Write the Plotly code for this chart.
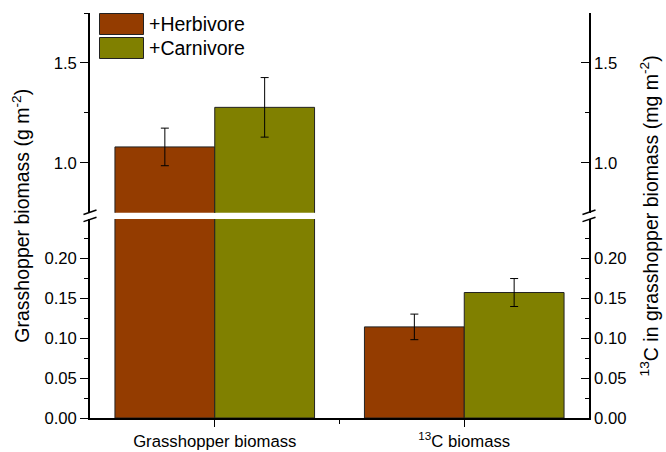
import plotly.graph_objects as go

# ---------------- data ----------------
categories = ["Grasshopper biomass", "<sup>13</sup>C biomass"]
cat_pos = [1, 2]
series_names = ["+Herbivore", "+Carnivore"]
herbivore = [1.08, 0.114]
herbivore_err = [0.094, 0.016]
carnivore = [1.278, 0.157]
carnivore_err = [0.149, 0.0175]
lower_ticks = [0.0, 0.05, 0.10, 0.15, 0.20]
upper_ticks = [1.0, 1.5]

colors = ["#943C00", "#808000"]
FONT = "Liberation Sans, Arial, sans-serif"

W, H = 666, 452
ML, MR, MT, MB = 90, 77, 13, 34
PW, PH = W - ML - MR, H - MT - MB
lower_top_px = 219.0
upper_bot_px = 212.7
lower_dom = [0, (H - MB - lower_top_px) / PH]
upper_dom = [(H - MB - upper_bot_px) / PH, 1]

fig = go.Figure()
for name, vals, errs, col in [(series_names[0], herbivore, herbivore_err, colors[0]),
                              (series_names[1], carnivore, carnivore_err, colors[1])]:
    for ya in ["y", "y2"]:
        fig.add_trace(go.Bar(
            x=cat_pos, y=vals, name=name, xaxis="x" if ya == "y" else "x2", yaxis=ya,
            marker=dict(color=col, line=dict(color="#222222", width=1)),
            error_y=dict(type="data", array=errs, color="black", thickness=1, width=4),
            showlegend=False, offsetgroup=name,
        ))

# empty traces so that the right-hand (mirror) axes get drawn
fig.add_trace(go.Scatter(x=[], y=[], xaxis="x", yaxis="y3", showlegend=False, hoverinfo="skip"))
fig.add_trace(go.Scatter(x=[], y=[], xaxis="x2", yaxis="y4", showlegend=False, hoverinfo="skip"))

TICK = 16.7
axis_common = dict(showline=True, linecolor="black", linewidth=1.5, showgrid=False,
                   zeroline=False, tickfont=dict(family=FONT, size=TICK, color="black"),
                   tickcolor="black", tickwidth=1.2)

fig.update_layout(
    width=W, height=H, margin=dict(l=ML, r=MR, t=MT, b=MB, autoexpand=False),
    plot_bgcolor="white", paper_bgcolor="white",
    barmode="group", bargap=0.2, bargroupgap=0,
    font=dict(family=FONT, color="black"),
    showlegend=False,
    xaxis=dict(anchor="y", domain=[0, 1], range=[0.5, 2.5],
               tickmode="array", tickvals=cat_pos, ticktext=categories,
               ticks="outside", ticklen=7,
               minor=dict(tickmode="array", tickvals=[1.5], ticklen=4, ticks="outside", tickcolor="black"),
               **axis_common),
    xaxis2=dict(anchor="y2", matches="x", visible=False, range=[0.5, 2.5]),
    yaxis=dict(anchor="x", domain=lower_dom, range=[0, 0.249],
               tickmode="array", tickvals=lower_ticks, tickformat=".2f",
               ticks="outside", ticklen=8,
               minor=dict(dtick=0.025, tick0=0, ticklen=4, ticks="outside", tickcolor="black"),
               **axis_common),
    yaxis2=dict(anchor="x2", domain=upper_dom, range=[0.751, 1.75],
                tickmode="array", tickvals=upper_ticks, tickformat=".1f",
                ticks="outside", ticklen=8,
                minor=dict(dtick=0.25, tick0=0, ticklen=4, ticks="outside", tickcolor="black"),
                **axis_common),
    yaxis3=dict(anchor="x", overlaying="y", side="right", range=[0, 0.249],
                tickmode="array", tickvals=lower_ticks, tickformat=".2f",
                ticks="inside", ticklen=8,
                minor=dict(dtick=0.025, tick0=0, ticklen=4, ticks="inside", tickcolor="black"),
                **axis_common),
    yaxis4=dict(anchor="x2", overlaying="y2", side="right", range=[0.751, 1.75],
                tickmode="array", tickvals=upper_ticks, tickformat=".1f",
                ticks="inside", ticklen=8,
                minor=dict(dtick=0.25, tick0=0, ticklen=4, ticks="inside", tickcolor="black"),
                **axis_common),
)

# axis titles as annotations (span both panels)
fig.add_annotation(x=-0.14, y=0.5, xref="paper", yref="paper", xanchor="center", yanchor="middle",
                   text="Grasshopper biomass (g m<sup>-2</sup>)", textangle=-90, showarrow=False,
                   font=dict(family=FONT, size=19.5, color="black"))
fig.add_annotation(x=1.12, y=0.5, xref="paper", yref="paper", xanchor="center", yanchor="middle",
                   text="<sup>13</sup>C in grasshopper biomass (mg m<sup>-2</sup>)", textangle=-90,
                   showarrow=False, font=dict(family=FONT, size=19.5, color="black"))

# break marks
gap_c = ((H - MB - upper_bot_px) / PH + (H - MB - lower_top_px) / PH) / 2
for xa in [0, 1]:
    for dy in [3.6, -3.6]:
        fig.add_shape(type="line", xref="paper", yref="paper", xsizemode="pixel", ysizemode="pixel",
                      xanchor=xa, yanchor=gap_c, x0=-6.5, x1=6.5, y0=dy - 2.2, y1=dy + 2.2,
                      line=dict(color="black", width=1.5))

# custom legend
def px_x(x):
    return (x - ML) / PW

def px_y(y):
    return (H - MB - y) / PH

for i, (name, col) in enumerate(zip(series_names, colors)):
    y0 = 13.5 + i * 24
    fig.add_shape(type="rect", xref="paper", yref="paper",
                  x0=px_x(99.5), x1=px_x(143.5), y0=px_y(y0 + 21), y1=px_y(y0),
                  fillcolor=col, line=dict(color="#222222", width=1))
    fig.add_annotation(x=px_x(147), y=px_y(y0 + 10.5), xref="paper", yref="paper",
                       xanchor="left", yanchor="middle", text=name, showarrow=False,
                       font=dict(family=FONT, size=19.5, color="black"))

fig.write_html("out.html", config={"displayModeBar": False},
               post_script="document.body.style.margin='0px';")
